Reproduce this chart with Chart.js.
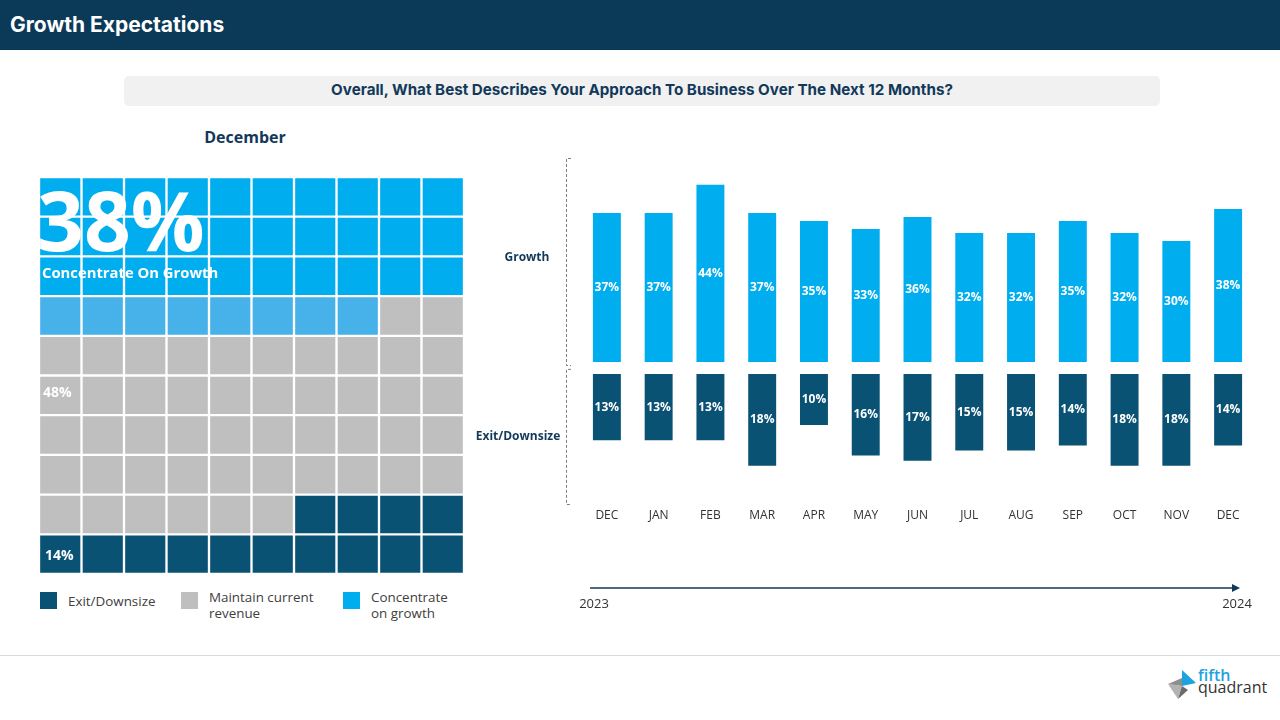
<!DOCTYPE html>
<html>
<head>
<meta charset="utf-8">
<script src="https://cdn.jsdelivr.net/npm/chart.js@4.4.1/dist/chart.umd.min.js"></script>
<style>
  body { margin: 0; width: 1280px; height: 720px; position: relative; background: #fff; font-family: "Open Sans", sans-serif; overflow: hidden; }
  #hdr { position: absolute; left: 0; top: 0; width: 1280px; height: 50px; background: #0b3a59; }
  #hdr span { position: absolute; left: 10px; top: 12px; color: #fff; font: 700 21px Inter, sans-serif; }
  #question { position: absolute; left: 124px; top: 76px; width: 1036px; height: 30px; background: #f1f1f1; border-radius: 5px;
    text-align: center; line-height: 30px; color: #12395a; font: 700 15.2px Inter, sans-serif; }
  #question span { position: relative; top: 4px; }
  #month { position: absolute; left: 145px; top: 126px; width: 200px; text-align: center; color: #12395a; font: 700 16px "Open Sans", sans-serif; }
  #waffleWrap { position: absolute; left: 39px; top: 177px; width: 425px; height: 397px; }
  #barWrap { position: absolute; left: 470px; top: 150px; width: 800px; height: 470px; }
  .leg { position: absolute; top: 588px; font: 13.4px "Open Sans", sans-serif; color: #404040; line-height: 16px; }
  .leg i { position: absolute; left: 0; top: 4px; width: 17px; height: 17px; }
  .leg span { position: absolute; left: 28px; top: 1px; white-space: nowrap; }
  .leg.one span { top: 5px; }
  #footer { position: absolute; left: 0; top: 655px; width: 1280px; height: 1px; background: #d9d9d9; }
  #logo { position: absolute; left: 1158px; top: 664px; }
</style>
</head>
<body>
<div id="hdr"><span>Growth Expectations</span></div>
<div id="question"><span>Overall, What Best Describes Your Approach To Business Over The Next 12 Months?</span></div>
<div id="month">December</div>
<div id="waffleWrap"><canvas id="waffle"></canvas></div>
<div id="legend"></div>
<div id="barWrap"><canvas id="bars"></canvas></div>
<div id="footer"></div>
<svg id="logo" width="112" height="44" viewBox="0 0 112 44">
  <polygon points="10,20 24,22 20,35" fill="#b3b3b3"/>
  <polygon points="24,22 20,35 30,26" fill="#6b6b6b"/>
  <polygon points="10,20 24,14 24,22" fill="#8e8e8e"/>
  <polygon points="24,6 38,19 24,22" fill="#1fa3de"/>
  <text x="40" y="17" font-family="Open Sans" font-size="16" fill="#1fa3de" font-weight="600">fifth</text>
  <text x="40" y="29" font-family="Open Sans" font-size="16" fill="#333">quadrant</text>
</svg>

<script>
// waffle (December)
const waffleCategories = ['Exit/Downsize', 'Maintain current revenue', 'Concentrate on growth']
const waffleLegendLines = [['Exit/Downsize'], ['Maintain current', 'revenue'], ['Concentrate', 'on growth']]
const waffleCounts = [14, 48, 38]
const waffleColors = ['#0a5274', '#bfbfbf', '#00adef']
const waffleHeadline = 'Concentrate On Growth'

// monthly series
const months = ['DEC', 'JAN', 'FEB', 'MAR', 'APR', 'MAY', 'JUN', 'JUL', 'AUG', 'SEP', 'OCT', 'NOV', 'DEC']
const growthPct = [37, 37, 44, 37, 35, 33, 36, 32, 32, 35, 32, 30, 38]
const exitPct = [13, 13, 13, 18, 10, 16, 17, 15, 15, 14, 18, 18, 14]
const rowLabels = ['Growth', 'Exit/Downsize']
const yearLabels = ['2023', '2024']

const NAVY = '#12395a'
const GRID = 10

// ---- legend
const legendX = [40, 181, 343]
const legendEl = document.getElementById('legend')
waffleCategories.forEach((name, i) => {
  const d = document.createElement('div')
  d.className = 'leg' + (waffleLegendLines[i].length === 1 ? ' one' : '')
  d.style.left = legendX[i] + 'px'
  d.innerHTML = `<i style="background:${waffleColors[i]}"></i><span>${waffleLegendLines[i].join('<br>')}</span>`
  legendEl.appendChild(d)
})

// ---- waffle cell colours, row 0 is the top row
const [exitN, keepN, growN] = waffleCounts
function cellColor(r, c) {
  const idx = r * GRID + c
  if (idx < growN) {
    // partly filled growth row renders a touch lighter in the original
    return r === Math.floor(growN / GRID) ? '#47b1e9' : waffleColors[2]
  }
  if (idx >= GRID * GRID - exitN) return waffleColors[0]
  return waffleColors[1]
}

const waffleDatasets = []
for (let r = GRID - 1; r >= 0; r--) {
  waffleDatasets.push({
    data: Array(GRID).fill(1),
    backgroundColor: Array.from({ length: GRID }, (_, c) => cellColor(r, c)),
    borderColor: '#fff',
    borderWidth: 1.5,
    borderSkipped: false,
    barPercentage: 1,
    categoryPercentage: 1
  })
}

const waffleText = {
  id: 'waffleText',
  afterDatasetsDraw(chart) {
    const { ctx, chartArea: a } = chart
    const ch = (a.bottom - a.top) / GRID
    ctx.save()
    ctx.fillStyle = '#fff'
    ctx.textAlign = 'left'
    ctx.textBaseline = 'alphabetic'
    ctx.font = '700 82px "Open Sans"'
    ctx.fillText(growN + '%', a.left - 2, a.top + 1.87 * ch)
    ctx.textBaseline = 'middle'
    ctx.font = '700 14.8px "Open Sans"'
    ctx.fillText(waffleHeadline, a.left + 3, a.top + 2.45 * ch)
    ctx.font = '700 14px "Open Sans"'
    ctx.fillText(keepN + '%', a.left + 4, a.top + 5.45 * ch)
    ctx.fillText(exitN + '%', a.left + 6, a.top + 9.55 * ch)
    ctx.restore()
  }
}

new Chart(document.getElementById('waffle'), {
  type: 'bar',
  data: { labels: Array.from({ length: GRID }, (_, i) => i + 1), datasets: waffleDatasets },
  options: {
    responsive: true,
    maintainAspectRatio: false,
    animation: false,
    layout: { padding: 0 },
    plugins: { legend: { display: false }, tooltip: { enabled: false } },
    scales: {
      x: { stacked: true, display: false },
      y: { stacked: true, display: false, min: 0, max: GRID }
    }
  },
  plugins: [waffleText]
})

// ---- monthly bars
const barText = {
  id: 'barText',
  afterDatasetsDraw(chart) {
    const { ctx } = chart
    ctx.save()
    ctx.fillStyle = '#fff'
    ctx.font = '700 12px "Open Sans"'
    ctx.textAlign = 'center'
    ctx.textBaseline = 'middle'
    chart.data.datasets.forEach((ds, di) => {
      chart.getDatasetMeta(di).data.forEach((bar, i) => {
        ctx.fillText(ds.data[i] + '%', bar.x, (bar.y + bar.base) / 2)
      })
    })
    ctx.restore()
  },
  afterDraw(chart) {
    const { ctx, chartArea: a, scales } = chart
    const gTop = a.top - 2
    const gBot = scales.yG.getPixelForValue(-1)
    const eTop = scales.yE.getPixelForValue(-1)
    const eBot = a.bottom
    const bx = 96
    ctx.save()
    // dashed brackets
    ctx.strokeStyle = '#7f7f7f'
    ctx.lineWidth = 1
    ctx.setLineDash([3, 2])
    ;[[gTop, gBot], [eTop, eBot]].forEach(([t, b]) => {
      ctx.beginPath()
      ctx.moveTo(bx + 5, t + 0.5)
      ctx.lineTo(bx + 0.5, t + 0.5)
      ctx.lineTo(bx + 0.5, b - 0.5)
      ctx.lineTo(bx + 5, b - 0.5)
      ctx.stroke()
    })
    ctx.setLineDash([])
    // row labels
    ctx.fillStyle = NAVY
    ctx.font = '700 12px "Open Sans"'
    ctx.textAlign = 'center'
    ctx.textBaseline = 'middle'
    ctx.fillText(rowLabels[0], 57, (gTop + gBot) / 2 - 4)
    ctx.fillText(rowLabels[1], 48, (eTop + eBot) / 2)
    // timeline arrow
    const ay = 438, ax0 = 120, ax1 = 770
    ctx.strokeStyle = NAVY
    ctx.lineWidth = 1.5
    ctx.beginPath()
    ctx.moveTo(ax0, ay)
    ctx.lineTo(ax1 - 6, ay)
    ctx.stroke()
    ctx.fillStyle = NAVY
    ctx.beginPath()
    ctx.moveTo(ax1, ay)
    ctx.lineTo(ax1 - 8, ay - 4)
    ctx.lineTo(ax1 - 8, ay + 4)
    ctx.closePath()
    ctx.fill()
    ctx.fillStyle = '#333'
    ctx.font = '13px "Open Sans"'
    ctx.fillText(yearLabels[0], 124, 454)
    ctx.fillText(yearLabels[1], 767, 454)
    ctx.restore()
  }
}

new Chart(document.getElementById('bars'), {
  type: 'bar',
  data: {
    labels: months,
    datasets: [
      { label: rowLabels[0], data: growthPct, yAxisID: 'yG', backgroundColor: '#00adef', grouped: false,
        barPercentage: 0.54, categoryPercentage: 1 },
      { label: rowLabels[1], data: exitPct, yAxisID: 'yE', backgroundColor: '#0a5274', grouped: false,
        barPercentage: 0.54, categoryPercentage: 1 }
    ]
  },
  options: {
    responsive: true,
    maintainAspectRatio: false,
    animation: false,
    layout: { padding: { left: 111, right: 16, top: 10, bottom: 90 } },
    plugins: { legend: { display: false }, tooltip: { enabled: false } },
    scales: {
      x: {
        grid: { display: false, drawTicks: false },
        border: { display: false },
        ticks: { color: '#333', font: { family: 'Open Sans', size: 12 }, padding: 3 },
        afterFit(scale) { scale.height = 25 }
      },
      yG: { display: false, min: -35.48, max: 50.13 },
      yE: { display: false, reverse: true, min: -41.96, max: 25.69 }
    }
  },
  plugins: [barText]
})
</script>
</body>
</html>
